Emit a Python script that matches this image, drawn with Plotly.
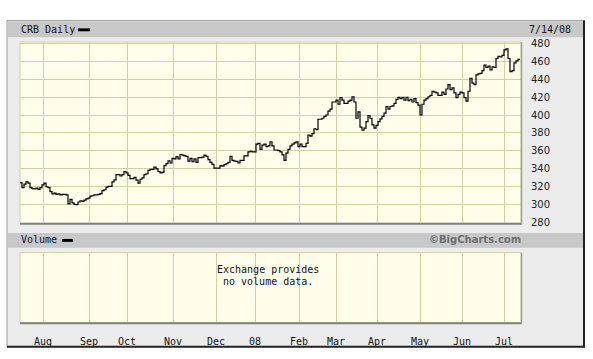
import plotly.graph_objects as go

# ---- data (CRB index, daily close, ~Jul 2007 - Jul 14 2008, one value per trading day) ----
crb_aug_sep = [324.7, 319, 323, 325.5, 324, 319, 318, 317.5, 318.5, 317, 319, 322, 324, 320, 319,
               314.5, 312, 313, 311.5, 312, 311, 311.5, 311.5, 311, 301, 306, 302, 300.4, 300, 303,
               304.4, 303.6, 305, 306.5, 307.3, 309.5, 310, 311, 311, 311.5, 312.4, 315.6, 316.7,
               319.6, 320.4, 320.4, 325.5, 327.6, 333.5, 333.5, 332]
crb_oct_dec = [333.5, 337, 335.6, 332.7, 329, 329, 330.5, 327.3, 324, 328.4, 330, 333.5, 334.5,
               338.2, 339.3, 339.3, 341.8, 340, 337, 335.6, 336.4, 343.6, 345.8, 349, 346.5, 351.6,
               351, 353.5, 351, 356, 355.3, 354.5, 353.8, 348.7, 351.6, 348, 351, 347.3, 352.4,
               352.4, 353, 355.3, 353.8, 350.2, 347.3, 345, 340.7, 340.7, 340.7, 343.6]
crb_dec_feb = [343, 344.7, 345.8, 347.3, 353.8, 349.5, 348.7, 348.4, 346.5, 349.5, 349.5, 354.5,
               354.5, 359, 359.6, 359, 359, 367.6, 368.4, 361.8, 366.5, 367.6, 364.7, 365.5, 370.2,
               365.5, 361, 361, 360.4, 359, 355.6, 349.5, 357.5, 361.8, 365.5, 367.6, 369, 370,
               364.7, 367.6, 364.7, 364.7, 368.4, 377.5, 376.4, 379.3, 384.7, 383.6, 395.3, 395.3]
crb_feb_may = [396.4, 398.5, 400, 404.4, 406.5, 414.5, 414.5, 416.7, 412, 419.3, 416.7, 413, 413,
               415.6, 416.7, 420.4, 414.5, 396.4, 403.6, 386.5, 383, 385.5, 392.7, 399.3, 396.4,
               389, 385.5, 388.4, 392.7, 395.6, 398.5, 402.2, 409.5, 406.5, 409.5, 410.2, 413,
               417.5, 419.6, 418.2, 419.6, 416.7, 419.6, 416, 417.5, 414.5, 418.2, 413.8, 411, 400]
crb_may_jul = [412, 416.7, 418.2, 420.4, 421.8, 426.5, 425.5, 424.7, 421.8, 421.8, 425.5, 423, 429,
               433.8, 428.4, 430.2, 424.7, 419.3, 423, 425.5, 424.7, 419.3, 415.6, 426.5, 441,
               435.6, 433.8, 444.7, 445.8, 446.5, 449.5, 455.6, 453, 454.5, 450.2, 453.8, 453, 463,
               465.5, 464.7, 466.5, 472.7, 473.8, 463, 448.4, 449.5, 458.2, 460.4, 462]
crb = crb_aug_sep + crb_oct_dec + crb_dec_feb + crb_feb_may + crb_may_jul

month_labels = ["Aug", "Sep", "Oct", "Nov", "Dec", "08", "Feb", "Mar", "Apr", "May", "Jun", "Jul"]
month_start_day = [11.5, 34.5, 53.5, 76.5, 98, 117.5, 139.5, 158, 178.5, 200, 221, 242]
price_ticks = [280, 300, 320, 340, 360, 380, 400, 420, 440, 460, 480]
chart_title = "CRB Daily"
chart_date = "7/14/08"

# ---- layout helpers (pixel -> paper) ----
W, H = 593, 359
def fx(p): return p / W
def fy(p): return 1 - p / H

GRID = "#d2d0a0"
PLOTBG = "#fefeea"
BAND = "#c8c8c8"
PANEL = "#ececec"
MONO = "DejaVu Sans Mono"

n = len(crb)
xs = list(range(n + 1))
ys = crb + [crb[-1]]

fig = go.Figure()
fig.add_trace(go.Scatter(x=xs, y=ys, mode="lines", xaxis="x", yaxis="y",
                         line=dict(color="black", width=1.2, shape="hv"), hoverinfo="skip"))
fig.add_trace(go.Scatter(x=[], y=[], xaxis="x2", yaxis="y2", hoverinfo="skip"))

xr = [0, n + 0.5]
fig.update_layout(
    width=W, height=H, margin=dict(l=0, r=0, t=0, b=0),
    paper_bgcolor="white", plot_bgcolor="rgba(0,0,0,0)", showlegend=False,
    xaxis=dict(domain=[fx(20), fx(521)], range=xr, tickvals=month_start_day, showticklabels=False,
               showgrid=True, gridcolor=GRID, gridwidth=1, zeroline=False, showline=False,
               anchor="y", ticks=""),
    yaxis=dict(domain=[fy(225), fy(39)], range=[279.2, 481.4], side="right", tickvals=price_ticks,
               showgrid=True, gridcolor=GRID, gridwidth=1, zeroline=False, showline=False,
               ticks="outside", ticklen=7, tickcolor="rgba(0,0,0,0)",
               tickfont=dict(family="DejaVu Sans", size=10, color="#222"), anchor="x"),
    xaxis2=dict(domain=[fx(20), fx(521)], range=xr, tickvals=month_start_day, ticktext=month_labels,
                showgrid=True, gridcolor=GRID, gridwidth=1, zeroline=False, showline=False,
                ticks="outside", ticklen=9, tickcolor="rgba(0,0,0,0)",
                tickfont=dict(family=MONO, size=10, color="#111"), anchor="y2"),
    yaxis2=dict(domain=[fy(327), fy(255)], range=[0, 1], showgrid=False, showticklabels=False,
                zeroline=False, showline=False, anchor="x2"),
)

def rect(x0, y0, x1, y1, fill, line=None, lw=0, layer="below"):
    return dict(type="rect", xref="paper", yref="paper", x0=fx(x0), x1=fx(x1), y0=fy(y1), y1=fy(y0),
                fillcolor=fill, line=dict(color=line or "rgba(0,0,0,0)", width=lw), layer=layer)

def seg(x0, y0, x1, y1, color, w, layer="above"):
    return dict(type="line", xref="paper", yref="paper", x0=fx(x0), x1=fx(x1), y0=fy(y0), y1=fy(y1),
                line=dict(color=color, width=w), layer=layer)

shapes = [
    rect(7, 17, 584, 351, PANEL),
    rect(8, 18, 583, 34, BAND),
    rect(8, 235, 583, 250, BAND),
    rect(20, 39, 521, 225, PLOTBG, GRID, 1),
    rect(20, 255, 521, 327, PLOTBG, GRID, 1),
    # plot shadows
    seg(20, 225.5, 522, 225.5, "#808080", 2),
    seg(521.5, 39, 521.5, 226, "#a0a0a0", 1.5),
    seg(20, 327.5, 522, 327.5, "#808080", 2),
    seg(521.5, 255, 521.5, 328, "#a0a0a0", 1.5),
    # outer frame
    seg(7, 17, 585, 17, "#9a9a9a", 1),
    seg(7, 17, 7, 352, "#9a9a9a", 1),
    seg(584, 17, 584, 352, "#222", 2),
    seg(7, 351.5, 585, 351.5, "#222", 2),
    # legend dashes
    rect(78, 25, 90, 28, "black", layer="above"),
    rect(62, 241, 73, 244, "black", layer="above"),
]
fig.update_layout(shapes=shapes)

def ann(text, x, y, xanchor="left", size=10, family=MONO, color="#111", bold=False):
    return dict(text=f"<b>{text}</b>" if bold else text, x=fx(x), y=fy(y), xref="paper", yref="paper",
                xanchor=xanchor, yanchor="middle", showarrow=False,
                font=dict(family=family, size=size, color=color))

fig.update_layout(annotations=[
    ann(chart_title, 19, 26),
    ann(chart_date, 573, 26, xanchor="right"),
    ann("Volume", 19, 242),
    ann("©BigCharts.com", 523, 242, xanchor="right", size=10, family="DejaVu Sans", color="#6e6e6e", bold=True),
    ann("Exchange provides", 268, 272, xanchor="center"),
    ann("no volume data.", 268, 285, xanchor="center"),
])

fig.write_html("out.html", config={"displayModeBar": False},
               post_script="document.body.style.margin='0';document.body.style.overflow='hidden';")
